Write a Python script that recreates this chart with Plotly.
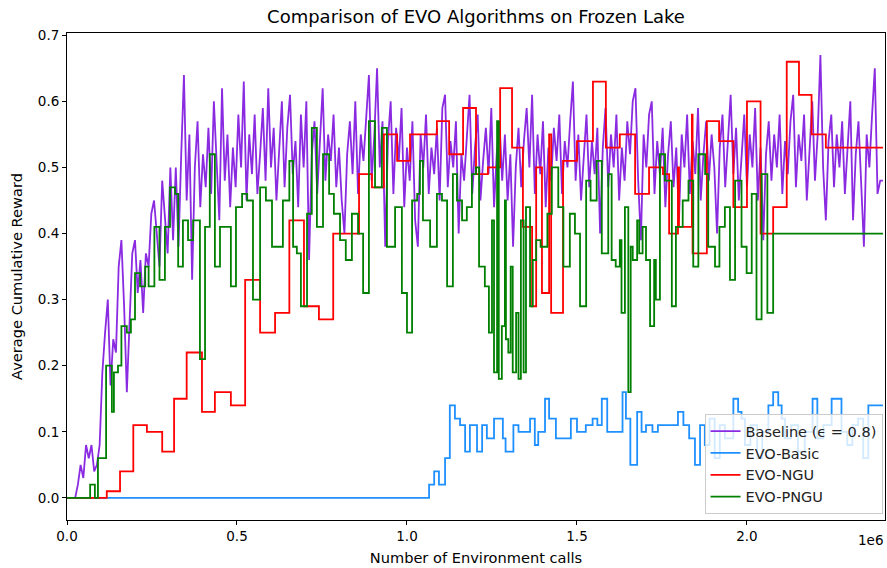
import plotly.graph_objects as go

# ---- data -------------------------------------------------------------
STEP = 8000  # environment calls between baseline evaluations

baseline_reward = [
    0, 0, 0, 0, 0.02, 0.05, 0.03, 0.08, 0.06, 0.08, 0.04, 0.05, 0.08, 0.19, 0.25, 0.30, 0.17, 0.24, 0.22, 0.35,
    0.39, 0.29, 0.16, 0.27, 0.37, 0.39, 0.31, 0.36, 0.28, 0.37, 0.35, 0.43, 0.45, 0.40, 0.35, 0.48, 0.42, 0.37, 0.50, 0.39,
    0.50, 0.38, 0.52, 0.64, 0.45, 0.55, 0.33, 0.50, 0.57, 0.44, 0.52, 0.47, 0.56, 0.46, 0.60, 0.50, 0.42, 0.62, 0.48, 0.55,
    0.44, 0.53, 0.47, 0.58, 0.50, 0.63, 0.45, 0.55, 0.49, 0.58, 0.46, 0.52, 0.59, 0.48, 0.62, 0.50, 0.56, 0.45, 0.53, 0.60,
    0.47, 0.56, 0.61, 0.49, 0.54, 0.44, 0.58, 0.50, 0.60, 0.36, 0.52, 0.57, 0.46, 0.54, 0.62, 0.48, 0.55, 0.51, 0.58, 0.47,
    0.53, 0.45, 0.40, 0.52, 0.57, 0.49, 0.60, 0.46, 0.55, 0.51, 0.58, 0.64, 0.48, 0.55, 0.65, 0.50, 0.57, 0.38, 0.54, 0.60,
    0.46, 0.56, 0.51, 0.59, 0.44, 0.53, 0.48, 0.57, 0.42, 0.38, 0.55, 0.50, 0.58, 0.46, 0.53, 0.49, 0.56, 0.45, 0.59, 0.61,
    0.47, 0.54, 0.50, 0.57, 0.40, 0.52, 0.48, 0.55, 0.61, 0.46, 0.53, 0.58, 0.45, 0.51, 0.56, 0.49, 0.59, 0.44, 0.52, 0.57,
    0.48, 0.55, 0.45, 0.52, 0.38, 0.50, 0.56, 0.47, 0.54, 0.59, 0.50, 0.61, 0.46, 0.55, 0.49, 0.57, 0.44, 0.53, 0.48, 0.56,
    0.51, 0.58, 0.46, 0.54, 0.50, 0.57, 0.63, 0.48, 0.55, 0.45, 0.52, 0.58, 0.47, 0.54, 0.49, 0.56, 0.40, 0.53, 0.59, 0.47,
    0.55, 0.50, 0.58, 0.45, 0.53, 0.48, 0.57, 0.52, 0.60, 0.62, 0.48, 0.39, 0.55, 0.50, 0.58, 0.60, 0.46, 0.54, 0.49, 0.56,
    0.44, 0.52, 0.57, 0.47, 0.53, 0.42, 0.55, 0.50, 0.58, 0.46, 0.54, 0.49, 0.59, 0.45, 0.52, 0.57, 0.48, 0.55, 0.50, 0.40,
    0.53, 0.58, 0.47, 0.54, 0.61, 0.49, 0.56, 0.45, 0.52, 0.58, 0.47, 0.55, 0.50, 0.59, 0.45, 0.53, 0.39, 0.52, 0.57, 0.48,
    0.55, 0.50, 0.58, 0.46, 0.54, 0.49, 0.57, 0.61, 0.47, 0.55, 0.51, 0.58, 0.45, 0.53, 0.60, 0.48, 0.55, 0.67, 0.50, 0.42,
    0.54, 0.58, 0.47, 0.55, 0.50, 0.57, 0.46, 0.53, 0.60, 0.42, 0.52, 0.57, 0.48, 0.38, 0.55, 0.50, 0.58, 0.65, 0.46, 0.48,
    0.48,
]
baseline_calls = [i * STEP for i in range(len(baseline_reward))]

# EVO-Basic: change points (millions of calls) and reward held until next point
basic_calls_m = [
    0, 1.065, 1.08, 1.094, 1.112, 1.126, 1.141, 1.156, 1.171, 1.185, 1.206, 1.221, 1.235, 1.256,
    1.282, 1.29, 1.313, 1.328, 1.362, 1.376, 1.386, 1.406, 1.418, 1.438, 1.482, 1.5, 1.526, 1.546,
    1.56, 1.573, 1.589, 1.634, 1.644, 1.657, 1.677, 1.69, 1.703, 1.722, 1.738, 1.797, 1.813, 1.83,
    1.847, 1.862, 1.876, 1.89, 1.905, 1.92, 1.935, 1.96, 1.974, 1.984, 1.994, 2.01, 2.03, 2.045,
    2.063, 2.077, 2.092, 2.102, 2.112, 2.13, 2.15, 2.17, 2.193, 2.207, 2.225, 2.249, 2.278, 2.295,
    2.31, 2.327, 2.342, 2.357, 2.4,
]
basic_reward = [
    0, 0.02, 0.04, 0.02, 0.06, 0.14, 0.12, 0.11, 0.07, 0.11, 0.07, 0.11, 0.09, 0.12,
    0.09, 0.07, 0.11, 0.10, 0.12, 0.08, 0.10, 0.15, 0.12, 0.09, 0.12, 0.10, 0.11, 0.12,
    0.11, 0.15, 0.10, 0.16, 0.12, 0.05, 0.13, 0.10, 0.11, 0.10, 0.11, 0.13, 0.11, 0.09,
    0.05, 0.11, 0.08, 0.12, 0.06, 0.11, 0.09, 0.15, 0.13, 0.12, 0.08, 0.11, 0.06, 0.10,
    0.14, 0.16, 0.14, 0.12, 0.09, 0.11, 0.07, 0.10, 0.15, 0.09, 0.11, 0.15, 0.10, 0.08,
    0.11, 0.12, 0.06, 0.14, 0.14,
]

# EVO-NGU
ngu_calls_m = [
    0, 0.117, 0.156, 0.195, 0.235, 0.28, 0.315, 0.352, 0.397, 0.435, 0.482, 0.524, 0.568,
    0.612, 0.654, 0.697, 0.741, 0.783, 0.859, 0.897, 0.932, 0.971, 1.009, 1.088, 1.124,
    1.165, 1.203, 1.238, 1.274, 1.309, 1.341, 1.368, 1.38, 1.397, 1.418, 1.424, 1.459, 1.5,
    1.547, 1.585, 1.626, 1.671, 1.712, 1.753, 1.771, 1.797, 1.80, 1.838, 1.84, 1.882, 1.918,
    1.96, 2.0, 2.04, 2.077, 2.117, 2.153, 2.19, 2.232, 2.4,
]
ngu_reward = [
    0, 0.01, 0.04, 0.11, 0.10, 0.07, 0.15, 0.22, 0.13, 0.16, 0.14, 0.33, 0.25,
    0.28, 0.42, 0.29, 0.27, 0.40, 0.49, 0.47, 0.55, 0.51, 0.55, 0.57, 0.52,
    0.59, 0.49, 0.50, 0.62, 0.53, 0.41, 0.29, 0.50, 0.31, 0.55, 0.28, 0.51, 0.54,
    0.63, 0.53, 0.55, 0.46, 0.50, 0.49, 0.40, 0.50, 0.41, 0.58, 0.37, 0.57, 0.54,
    0.44, 0.60, 0.40, 0.44, 0.66, 0.61, 0.55, 0.53, 0.53,
]

# EVO-PNGU
pngu_calls_m = [
    0, 0.068, 0.082, 0.091, 0.115, 0.132, 0.138, 0.15, 0.16, 0.176, 0.188, 0.2, 0.215,
    0.23, 0.24, 0.257, 0.272, 0.288, 0.303, 0.318, 0.327, 0.341, 0.356, 0.371, 0.391,
    0.406, 0.42, 0.435, 0.45, 0.482, 0.497, 0.515, 0.53, 0.547, 0.568, 0.585, 0.603,
    0.635, 0.654, 0.665, 0.676, 0.688, 0.706, 0.72, 0.735, 0.753, 0.771, 0.785, 0.803,
    0.82, 0.838, 0.856, 0.871, 0.888, 0.906, 0.926, 0.941, 0.965, 0.985, 1.0, 1.015,
    1.03, 1.038, 1.047, 1.068, 1.088, 1.103, 1.118, 1.135, 1.147, 1.162, 1.176, 1.191,
    1.203, 1.212, 1.229, 1.241, 1.25, 1.256, 1.265, 1.27, 1.279, 1.288, 1.291, 1.298,
    1.305, 1.311, 1.321, 1.328, 1.335, 1.343, 1.35, 1.362, 1.37, 1.38, 1.393, 1.413,
    1.426, 1.445, 1.46, 1.479, 1.494, 1.509, 1.527, 1.54, 1.558, 1.573, 1.592, 1.602,
    1.614, 1.626, 1.631, 1.641, 1.651, 1.658, 1.664, 1.677, 1.683, 1.693, 1.703, 1.715,
    1.727, 1.732, 1.744, 1.759, 1.779, 1.791, 1.811, 1.828, 1.842, 1.857, 1.877, 1.886,
    1.906, 1.919, 1.935, 1.95, 1.965, 1.984, 1.999, 2.014, 2.028, 2.043, 2.06, 2.077, 2.4,
]
pngu_reward = [
    0, 0.02, 0, 0.06, 0.20, 0.13, 0.19, 0.20, 0.26, 0.25, 0.27, 0.34, 0.32,
    0.35, 0.32, 0.41, 0.33, 0.41, 0.47, 0.46, 0.35, 0.42, 0.39, 0.42, 0.21,
    0.41, 0.52, 0.35, 0.41, 0.32, 0.44, 0.46, 0.45, 0.30, 0.47, 0.45, 0.38,
    0.45, 0.51, 0.38, 0.37, 0.29, 0.43, 0.56, 0.41, 0.52, 0.46, 0.43, 0.39,
    0.36, 0.43, 0.40, 0.31, 0.57, 0.47, 0.56, 0.38, 0.44, 0.31, 0.25, 0.45,
    0.46, 0.51, 0.42, 0.38, 0.46, 0.45, 0.32, 0.49, 0.45, 0.42, 0.44, 0.49,
    0.50, 0.35, 0.32, 0.25, 0.42, 0.19, 0.57, 0.18, 0.26, 0.45, 0.24, 0.22,
    0.35, 0.19, 0.28, 0.18, 0.42, 0.19, 0.44, 0.29, 0.36, 0.39, 0.38, 0.43,
    0.50, 0.44, 0.35, 0.43, 0.40, 0.29, 0.48, 0.45, 0.51, 0.37, 0.49, 0.36,
    0.35, 0.39, 0.28, 0.44, 0.16, 0.38, 0.36, 0.42, 0.37, 0.41, 0.36, 0.26,
    0.36, 0.30, 0.52, 0.48, 0.29, 0.41, 0.45, 0.48, 0.35, 0.52, 0.49, 0.38,
    0.35, 0.41, 0.44, 0.33, 0.48, 0.38, 0.34, 0.46, 0.27, 0.49, 0.28, 0.40, 0.40,
]

x_tick_vals_m = [0.0, 0.5, 1.0, 1.5, 2.0]
y_tick_vals = [0.0, 0.1, 0.2, 0.3, 0.4, 0.5, 0.6, 0.7]

MILLION = 1e6

# ---- figure -----------------------------------------------------------
fig = go.Figure()

fig.add_trace(go.Scatter(
    x=baseline_calls, y=baseline_reward, mode="lines",
    name="Baseline (\u03f5 = 0.8)", line=dict(color="#8A2BE2", width=1.8),
))
fig.add_trace(go.Scatter(
    x=[v * MILLION for v in basic_calls_m], y=basic_reward, mode="lines",
    name="EVO-Basic", line=dict(color="#1E90FF", width=1.8, shape="hv"),
))
fig.add_trace(go.Scatter(
    x=[v * MILLION for v in ngu_calls_m], y=ngu_reward, mode="lines",
    name="EVO-NGU", line=dict(color="#FF0000", width=1.8, shape="hv"),
))
fig.add_trace(go.Scatter(
    x=[v * MILLION for v in pngu_calls_m], y=pngu_reward, mode="lines",
    name="EVO-PNGU", line=dict(color="#008000", width=1.8, shape="hv"),
))

font_family = "DejaVu Sans, Arial, sans-serif"
axis_common = dict(
    showline=True, linecolor="black", linewidth=1, mirror=True,
    ticks="outside", ticklen=4, tickwidth=1, tickcolor="black",
    showgrid=False, zeroline=False,
    tickfont=dict(family=font_family, size=13.5, color="black"),
)

fig.update_layout(
    width=887, height=568,
    margin=dict(l=67, r=2, t=33, b=48),
    paper_bgcolor="white", plot_bgcolor="white",
    font=dict(family=font_family, color="black"),
    title=dict(
        text="Comparison of EVO Algorithms on Frozen Lake",
        x=0.5, xanchor="center", xref="paper",
        y=1 - 17 / 568, yanchor="middle", yref="container",
        font=dict(size=18, family=font_family, color="black"),
    ),
    xaxis=dict(
        range=[0, 2.406 * MILLION],
        tickvals=[v * MILLION for v in x_tick_vals_m],
        ticktext=[f"{v:.1f}" for v in x_tick_vals_m],
        title=dict(text="Number of Environment calls",
                   font=dict(size=14.6, family=font_family, color="black"),
                   standoff=9),
        **axis_common,
    ),
    yaxis=dict(
        range=[-0.0335, 0.7035],
        tickvals=y_tick_vals,
        ticktext=[f"{v:.1f}" for v in y_tick_vals],
        title=dict(text="Average Cumulative Reward",
                   font=dict(size=14.6, family=font_family, color="black"),
                   standoff=11),
        **axis_common,
    ),
    legend=dict(
        x=0.997, y=0.012, xanchor="right", yanchor="bottom",
        bgcolor="rgba(255,255,255,0.8)", bordercolor="#CCCCCC", borderwidth=1,
        font=dict(size=14.5, family=font_family, color="#222222"),
        tracegroupgap=0, itemwidth=30,
    ),
    showlegend=True,
)

# scale multiplier shown under the right end of the x axis
fig.add_annotation(
    text="1e6", xref="paper", yref="paper", x=1.0, y=0, xanchor="right",
    yanchor="top", yshift=-10, showarrow=False,
    font=dict(size=13.5, family=font_family, color="black"),
)

fig.write_html("out.html")
